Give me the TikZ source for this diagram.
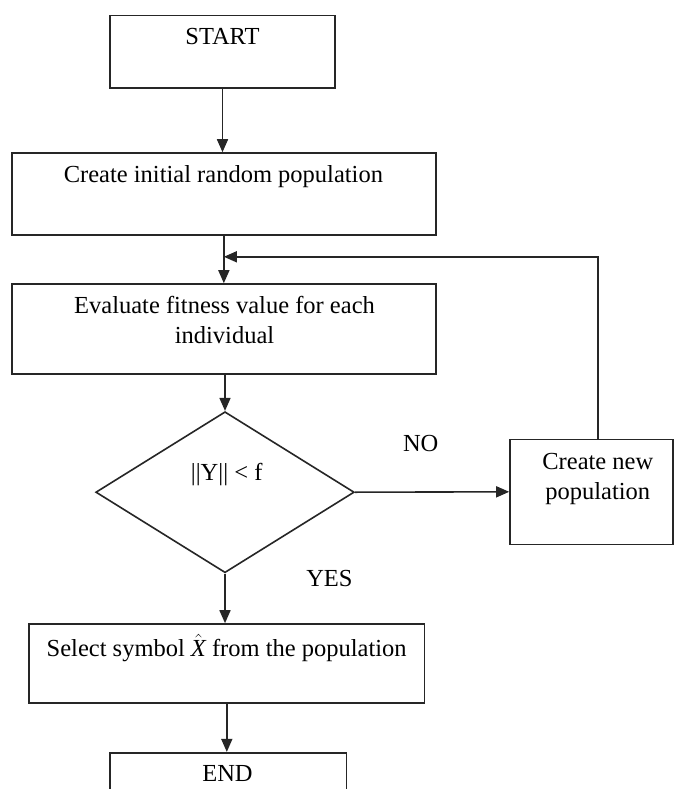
\documentclass[tikz,border=0pt]{standalone}
\usepackage{fontspec}
\setmainfont{Liberation Serif}
\usetikzlibrary{arrows.meta,shapes.geometric}
\begin{document}
\begin{tikzpicture}[x=1pt,y=-1pt,
  box/.style={draw=black!85,line width=1.6pt,rectangle,inner sep=0pt},
  dia/.style={draw=black!85,line width=1.6pt,diamond,inner sep=0pt},
  lbl/.style={font=\fontsize{24.5}{30}\selectfont,align=center,inner sep=0pt,anchor=base},
  conn/.style={draw=black!85,line width=1.6pt,-{Triangle[length=13pt,width=11pt]}}]
\useasboundingbox (0,0) rectangle (674,789);
\clip (0,0) rectangle (674,789);
\fill[white] (0,0) rectangle (674,789);
% boxes
\node[box,minimum width=225pt,minimum height=72.6pt] (start) at (222.5,52) {};
\node[box,minimum width=423.7pt,minimum height=82pt] (create) at (223.85,194) {};
\node[box,minimum width=423.7pt,minimum height=89.7pt] (eval) at (223.85,328.85) {};
\node[dia,minimum width=258.5pt,minimum height=161pt] (diam) at (225,492.2) {};
\node[box,minimum width=163pt,minimum height=105pt] (newpop) at (591.5,491.8) {};
\node[box,minimum width=395.6pt,minimum height=78.7pt] (select) at (226.8,663.35) {};
\node[box,minimum width=236.4pt,minimum height=80pt] (end) at (228.2,792.7) {};
% texts
\node[lbl] (tstart) at (222.5,44.3) {START};
\node[lbl] (tcreate) at (223.4,182.7) {Create initial random population};
\node[lbl] (teval) at (224.5,343.3) {Evaluate fitness value for each\\individual};
\node[lbl] (tdiam) at (226.7,480) {||Y|| < f};
\node[lbl] (tno) at (420.7,451) {NO};
\node[lbl] (tnew) at (597.8,499.8) {Create new\\population};
\node[lbl] (tyes) at (329.4,586.7) {YES};
\node[lbl] (tselect) at (226.7,656.7) {Select symbol $\hat{\mathit{X}}$ from the population};
\node[lbl] (tend) at (227.5,781) {END};
% connectors
\draw[conn] (start.south) -- (start.south |- create.north);
\draw[conn] (create.south) -- (create.south |- eval.north);
\draw[conn] (diam.north |- eval.south) -- (diam.north);
\draw[conn] (diam.east) -- (newpop.west);
\draw[conn] (diam.south) -- (diam.south |- select.north);
\draw[conn] (select.south) -- (select.south |- end.north);
\draw[conn] ([xshift=6.5pt]newpop.north) |- ([yshift=-21pt]create.south);
\end{tikzpicture}
\end{document}
